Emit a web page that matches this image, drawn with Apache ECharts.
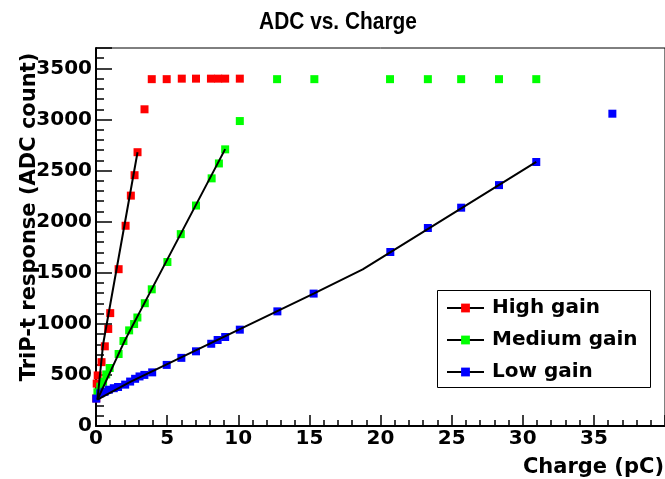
<!DOCTYPE html>
<html>
<head>
<meta charset="utf-8">
<title>ADC vs. Charge</title>
<script src="https://cdn.jsdelivr.net/npm/echarts/dist/echarts.min.js"></script>
<style>
  html, body { margin: 0; padding: 0; background: #fff; }
  #main { width: 665px; height: 479px; }
</style>
</head>
<body>
<div id="main"></div>
<script>
// measured points (charge in pC, ADC count)
var highQ   = [0.02, 0.05, 0.12, 0.39, 0.62, 0.86, 1.0, 1.59, 2.08, 2.45, 2.71, 2.92, 3.41, 3.92, 4.97, 6.03, 7.03, 8.08, 8.59, 9.08, 10.11];
var highAdc = [270, 415, 495, 625, 780, 950, 1105, 1535, 1960, 2255, 2455, 2680, 3100, 3395, 3395, 3400, 3400, 3400, 3400, 3400, 3400];

var medQ    = [0.1, 0.3, 0.5, 0.72, 0.96, 1.59, 1.93, 2.33, 2.68, 2.91, 3.43, 3.92, 5.02, 5.96, 7.03, 8.13, 8.64, 9.08, 10.11, 12.73, 15.35, 20.67, 23.33, 25.67, 28.33, 30.95];
var medAdc  = [330, 385, 432, 505, 568, 705, 832, 936, 998, 1062, 1202, 1338, 1605, 1878, 2158, 2424, 2570, 2708, 2985, 3395, 3395, 3395, 3395, 3395, 3395, 3395];

var lowQ    = [0.02, 0.3, 0.6, 0.9, 1.25, 1.55, 2.05, 2.4, 2.75, 3.06, 3.4, 3.95, 4.97, 6.0, 7.03, 8.1, 8.55, 9.08, 10.11, 12.75, 15.3, 20.69, 23.33, 25.67, 28.33, 30.95, 36.3];
var lowAdc  = [268, 320, 335, 355, 370, 382, 405, 435, 462, 485, 500, 525, 598, 667, 731, 805, 842, 871, 943, 1122, 1296, 1703, 1938, 2137, 2358, 2584, 3057];

// fitted lines (black)
var highFitQ   = [0.1, 0.5, 2.92];
var highFitAdc = [258, 800, 2680];
var medFitQ    = [0.1, 2.03, 9.08];
var medFitAdc  = [258, 838, 2710];
var lowFitQ    = [0.1, 2.41, 15.3, 18.75, 30.95];
var lowFitAdc  = [258, 431, 1296, 1533, 2585];

// axis tick labels
var xTicks = ['0', '5', '10', '15', '20', '25', '30', '35'];
var yTicks = ['0', '500', '1000', '1500', '2000', '2500', '3000', '3500'];

var seriesNames = ['High gain', 'Medium gain', 'Low gain'];
var seriesColors = ['#ff0000', '#00ff00', '#0000ff'];

function pairs(qs, vs) {
	var out = [];
	for (var i = 0; i < qs.length; i++) {
		out.push([qs[i], vs[i]]);
	}
	return out;
}

var myChart = echarts.init(document.getElementById('main'), null, { renderer: 'canvas' });

var labelFont = { color: '#000', fontFamily: 'DejaVu Sans', fontWeight: 'bold', fontSize: 20 };

function pointSeries(name, qs, vs, color) {
	return {
		name: name,
		type: 'line',
		data: pairs(qs, vs),
		symbol: 'rect',
		symbolSize: 8,
		showAllSymbol: true,
		itemStyle: { color: color },
		lineStyle: { opacity: 0, width: 0 },
		z: 2
	};
}

function fitSeries(qs, vs) {
	return {
		type: 'line',
		data: pairs(qs, vs),
		showSymbol: false,
		symbol: 'none',
		lineStyle: { color: '#000', width: 2 },
		silent: true,
		z: 3
	};
}

myChart.setOption({
	animation: false,
	backgroundColor: '#fff',
	grid: {
		left: 96,
		right: -2,
		top: 48,
		bottom: 53,
		show: true,
		borderColor: '#000',
		borderWidth: 1
	},
	xAxis: {
		type: 'value',
		min: 0,
		max: 40,
		interval: 5,
		axisLine: { lineStyle: { color: '#000', width: 2 } },
		axisTick: { inside: true, length: 11, lineStyle: { color: '#000', width: 1.5 } },
		minorTick: { show: true, splitNumber: 5, length: 6, lineStyle: { color: '#000', width: 1.5 } },
		splitLine: { show: false },
		axisLabel: Object.assign({
			margin: 3,
			showMaxLabel: false,
			formatter: function (v) { return xTicks[Math.round(v / 5)] || ''; }
		}, labelFont)
	},
	yAxis: {
		type: 'value',
		min: 0,
		max: 3700,
		interval: 500,
		axisLine: { show: true, lineStyle: { color: '#000', width: 2 } },
		axisTick: { show: true, inside: true, length: 16, lineStyle: { color: '#000', width: 1.5 } },
		minorTick: { show: true, splitNumber: 5, length: 8, lineStyle: { color: '#000', width: 1.5 } },
		splitLine: { show: false },
		axisLabel: Object.assign({
			margin: 4,
			showMaxLabel: false,
			formatter: function (v) { return yTicks[Math.round(v / 500)] || ''; }
		}, labelFont)
	},
	legend: {
		orient: 'vertical',
		left: 446,
		top: 298,
		padding: 0,
		itemWidth: 37,
		itemHeight: 11,
		itemGap: 12,
		data: seriesNames,
		lineStyle: { color: '#000', width: 2, opacity: 1 },
		textStyle: { color: '#000', fontFamily: 'DejaVu Sans', fontWeight: 'bold', fontSize: 20, padding: [0, 0, 0, 3] }
	},
	graphic: [
		{
			type: 'rect',
			z: 3,
			shape: { x: 437.5, y: 290.5, width: 213, height: 97 },
			style: { fill: '#fff', stroke: '#000', lineWidth: 1 }
		},
		{
			// title, slightly condensed like the original
			type: 'text',
			x: 338, y: 22,
			scaleX: 0.87,
			style: { text: 'ADC vs. Charge', font: 'bold 24px "Liberation Sans"', fill: '#000', align: 'center', verticalAlign: 'middle' }
		},
		{
			type: 'text',
			x: 664, y: 468,
			style: { text: 'Charge (pC)', font: 'bold 21px "DejaVu Sans"', fill: '#000', align: 'right', verticalAlign: 'middle' }
		},
		{
			type: 'text',
			x: 30, y: 217,
			rotation: Math.PI / 2,
			style: { text: 'TriP-t response (ADC count)', font: 'bold 21px "DejaVu Sans"', fill: '#000', align: 'center', verticalAlign: 'middle' }
		}
	],
	series: [
		pointSeries(seriesNames[0], highQ, highAdc, seriesColors[0]),
		pointSeries(seriesNames[1], medQ, medAdc, seriesColors[1]),
		pointSeries(seriesNames[2], lowQ, lowAdc, seriesColors[2]),
		fitSeries(highFitQ, highFitAdc),
		fitSeries(medFitQ, medFitAdc),
		fitSeries(lowFitQ, lowFitAdc)
	]
});
</script>
</body>
</html>
